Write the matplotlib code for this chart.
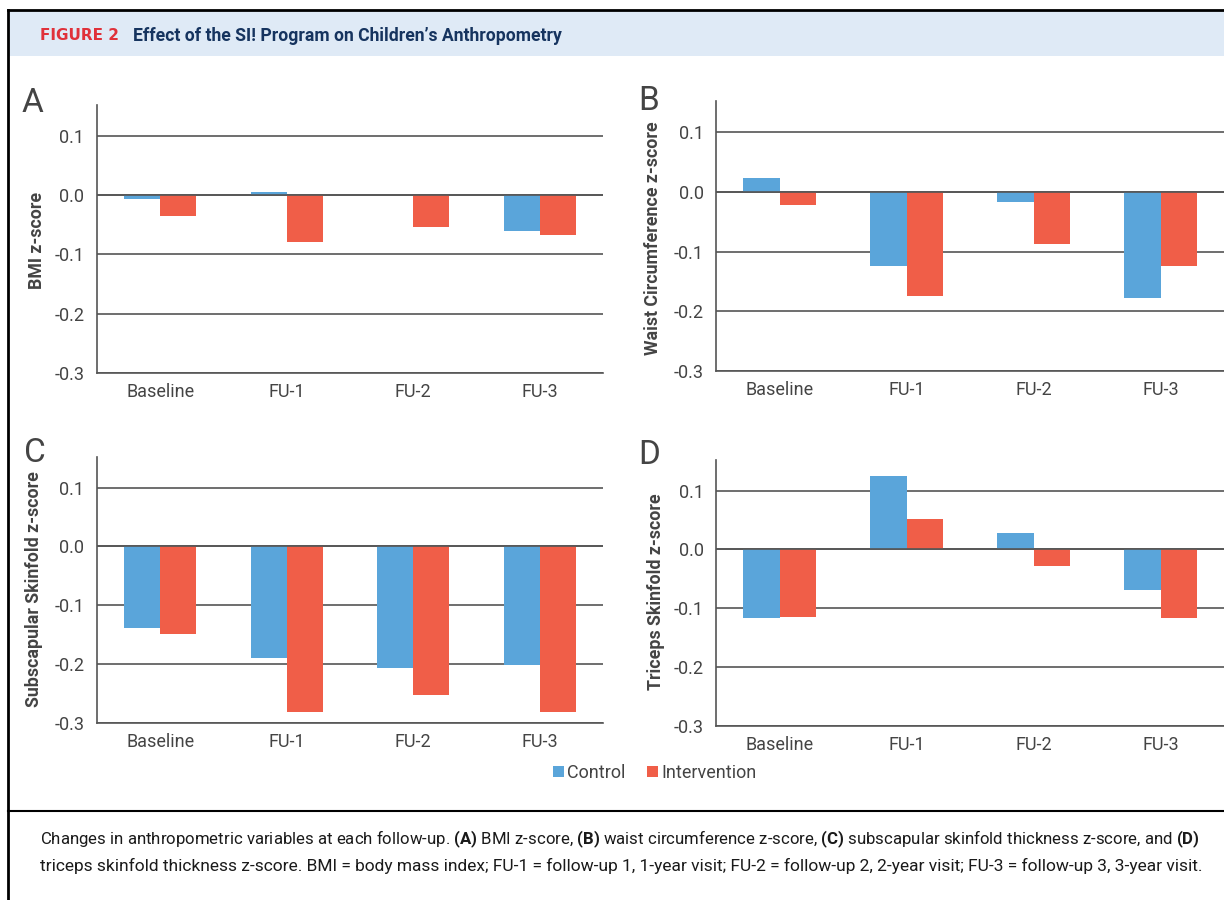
import matplotlib
matplotlib.use('Agg')
import matplotlib.pyplot as plt
import numpy as np
from matplotlib.patches import Rectangle, Patch
from matplotlib.lines import Line2D

plt.rcParams['font.family'] = ['Roboto', 'DejaVu Sans']
plt.rcParams['mathtext.fontset'] = 'custom'
plt.rcParams['mathtext.rm'] = 'Roboto'
plt.rcParams['mathtext.bf'] = 'Roboto:bold'

# data: mean z-score change per visit
visits = ['Baseline', 'FU-1', 'FU-2', 'FU-3']
groups = ['Control', 'Intervention']

bmi_control = [-0.006, 0.006, 0.0, -0.060]
bmi_intervention = [-0.036, -0.079, -0.053, -0.068]
waist_control = [0.023, -0.125, -0.017, -0.178]
waist_intervention = [-0.022, -0.175, -0.087, -0.125]
subscap_control = [-0.139, -0.189, -0.206, -0.201]
subscap_intervention = [-0.148, -0.281, -0.252, -0.281]
triceps_control = [-0.117, 0.125, 0.028, -0.069]
triceps_intervention = [-0.114, 0.051, -0.028, -0.117]

panel_letters = ['A', 'B', 'C', 'D']
ylabels = ['BMI z-score', 'Waist Circumference z-score',
           'Subscapular Skinfold z-score', 'Triceps Skinfold z-score']
yticks = [-0.3, -0.2, -0.1, 0.0, 0.1]
ytick_labels = ['-0.3', '-0.2', '-0.1', '0.0', '0.1']

BLUE = '#5aa5da'
RED = '#f05e48'
GRID = '#555555'
TXT = '#444444'

W, H = 1224, 900
fig = plt.figure(figsize=(W / 100, H / 100), dpi=100)


def fx(x):
    return x / W


def fy(y):
    return 1 - y / H


# outer frame and header band
fig.add_artist(Rectangle((fx(9), fy(56)), 1, (56 - 11) / H, transform=fig.transFigure,
                         facecolor='#dfeaf6', edgecolor='none'))
fig.add_artist(Line2D([fx(8), 1], [fy(10), fy(10)], color='black', lw=2))
fig.add_artist(Line2D([fx(8), fx(8)], [fy(10), 0], color='black', lw=2))
fig.add_artist(Line2D([fx(8), 1], [fy(811), fy(811)], color='black', lw=1.5))

fig.text(fx(40), fy(36), 'FIGURE 2', color='#e0313a', fontsize=11, fontweight='bold',
         family='DejaVu Sans', va='center')
fig.text(fx(133), fy(36), 'Effect of the SI! Program on Children\u2019s Anthropometry',
         color='#16345f', fontsize=12.7, fontweight='bold', va='center')

# axes boxes in pixels: left, top, right, bottom
boxes = [(97, 105, 603, 373), (716, 101, 1224, 371),
         (97, 457, 603, 723), (716, 460, 1224, 726)]
letter_pos = [(22, 112), (638, 110), (24, 462), (638, 464)]
ylabel_pos = [(37, 240), (653, 238), (34, 589), (656, 592)]
series = [(bmi_control, bmi_intervention), (waist_control, waist_intervention),
          (subscap_control, subscap_intervention), (triceps_control, triceps_intervention)]

x = np.arange(len(visits))
bw = 0.285

for i, (l, t, r, b) in enumerate(boxes):
    ax = fig.add_axes([fx(l), fy(b), (r - l) / W, (b - t) / H])
    ctrl, intv = series[i]
    ax.set_axisbelow(True)
    ax.bar(x - bw / 2, ctrl, bw, color=BLUE, zorder=2)
    ax.bar(x + bw / 2, intv, bw, color=RED, zorder=2)
    ax.set_xlim(-0.5, 3.5)
    ax.set_ylim(-0.3, 0.152)
    ax.set_yticks(yticks)
    ax.set_yticklabels(ytick_labels)
    ax.set_xticks(x)
    ax.set_xticklabels(visits)
    ax.yaxis.grid(True, color=GRID, lw=1.2)
    ax.axhline(0, color=GRID, lw=1.2, zorder=3)
    for s in ['top', 'right']:
        ax.spines[s].set_visible(False)
    for s in ['left', 'bottom']:
        ax.spines[s].set_color(GRID)
        ax.spines[s].set_linewidth(1.2)
    ax.tick_params(length=0, labelsize=13, labelcolor=TXT)
    ax.tick_params(axis='y', pad=9)
    ax.tick_params(axis='x', pad=7)

    lx, ly = letter_pos[i]
    fig.text(fx(lx), fy(ly), panel_letters[i], fontsize=24, color=TXT, va='baseline')
    yx, yy = ylabel_pos[i]
    fig.text(fx(yx), fy(yy), ylabels[i], rotation=90, fontsize=12.8, fontweight='bold',
             color=TXT, ha='center', va='center')

handles = [Patch(facecolor=BLUE, label=groups[0]), Patch(facecolor=RED, label=groups[1])]
fig.legend(handles=handles, loc='center', bbox_to_anchor=(fx(655), fy(773)), ncol=2,
           frameon=False, fontsize=13, handlelength=0.6, handleheight=0.6,
           handletextpad=0.2, columnspacing=1.2, labelcolor=TXT)

cap1 = (r'Changes in anthropometric variables at each follow-up. $\mathbf{(A)}$ BMI z-score, '
        r'$\mathbf{(B)}$ waist circumference z-score, $\mathbf{(C)}$ subscapular skinfold '
        r'thickness z-score, and $\mathbf{(D)}$')
cap2 = ('triceps skinfold thickness z-score. BMI = body mass index; FU-1 = follow-up 1, '
        '1-year visit; FU-2 = follow-up 2, 2-year visit; FU-3 = follow-up 3, 3-year visit.')
fig.text(fx(40), fy(839), cap1, fontsize=12.1, color='#1a1a1a', va='center')
fig.text(fx(40), fy(866), cap2, fontsize=12.55, color='#1a1a1a', va='center')

fig.savefig('out.png', dpi=100)
